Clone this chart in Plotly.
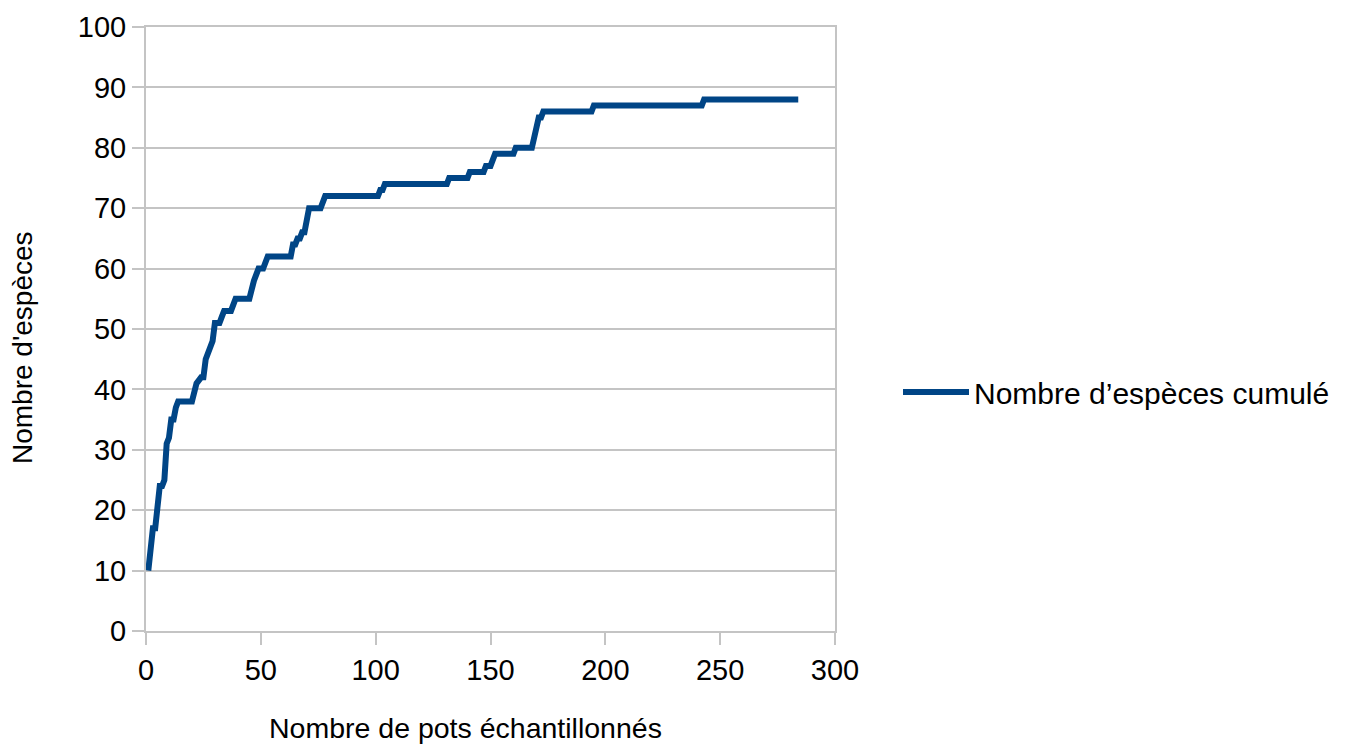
import plotly.graph_objects as go

pots = [1, 2, 3, 4, 5, 6, 7, 8, 9, 10, 11, 12, 13, 14, 20, 21, 22, 24, 25, 26,
        27, 28, 29, 30, 32, 33, 34, 37, 38, 39, 45, 46, 47, 48, 49, 51, 52, 53,
        63, 64, 65, 66, 67, 68, 69, 70, 71, 76, 77, 78, 101, 102, 103, 104, 131,
        132, 140, 141, 147, 148, 150, 151, 152, 160, 161, 168, 169, 170, 171,
        172, 173, 194, 195, 242, 243, 284]
species = [10, 14, 17, 17, 21, 24, 24, 25, 31, 32, 35, 35, 37, 38, 38, 40, 41,
           42, 42, 45, 46, 47, 48, 51, 51, 52, 53, 53, 54, 55, 55, 57, 58, 59,
           60, 60, 61, 62, 62, 64, 64, 65, 65, 66, 66, 68, 70, 70, 71, 72, 72,
           73, 73, 74, 74, 75, 75, 76, 76, 77, 77, 78, 79, 79, 80, 80, 82, 83,
           85, 85, 86, 86, 87, 87, 88, 88]

series_name = "Nombre d\u2019espèces cumulé"
x_title = "Nombre de pots échantillonnés"
y_title = "Nombre d'espèces"
x_ticks = [0, 50, 100, 150, 200, 250, 300]
y_ticks = [0, 10, 20, 30, 40, 50, 60, 70, 80, 90, 100]

FONT = "Liberation Sans, Arial, sans-serif"
GRID = "#c4c4c4"

# page body has an 8px offset; plot area target (page px): x 146-835, y 27-631
OFF = 8
L, R, T, B = 146 - OFF, 1354 - (835 - OFF), 27 - OFF, 744 - (631 - OFF)
pw = 1354 - L - R
ph = 744 - T - B


def px_to_paper(px, py):
    return (px - 146) / pw, (631 - py) / ph


fig = go.Figure()
fig.add_trace(go.Scatter(
    x=pots, y=species, mode="lines", name=series_name,
    line=dict(color="#004586", width=6),
))

ax, ay = px_to_paper(465, 728)
bx, by = px_to_paper(22, 348)
lx, ly = px_to_paper(898, 392)

fig.update_layout(
    width=1354, height=744,
    margin=dict(l=L, r=R, t=T, b=B, autoexpand=False),
    paper_bgcolor="white", plot_bgcolor="white",
    font=dict(family=FONT, size=29, color="#000000"),
    showlegend=True,
    legend=dict(x=lx, y=ly, xanchor="left", yanchor="middle",
                font=dict(size=30), itemwidth=66, bgcolor="rgba(0,0,0,0)"),
    xaxis=dict(range=[0, 300], tickvals=x_ticks, showgrid=False,
               showline=True, linecolor=GRID, linewidth=2, mirror=True,
               ticks="outside", ticklen=12, tickwidth=2, tickcolor=GRID,
               zeroline=False, tickfont=dict(size=29)),
    yaxis=dict(range=[0, 100], tickvals=y_ticks, showgrid=True,
               gridcolor=GRID, gridwidth=2,
               showline=True, linecolor=GRID, linewidth=2, mirror=True,
               ticks="outside", ticklen=12, tickwidth=2, tickcolor=GRID,
               zeroline=False, tickfont=dict(size=29)),
    annotations=[
        dict(text=x_title, x=ax, y=ay, xref="paper", yref="paper",
             xanchor="center", yanchor="middle", showarrow=False,
             font=dict(size=28.5)),
        dict(text=y_title, x=bx, y=by, xref="paper", yref="paper",
             xanchor="center", yanchor="middle", showarrow=False,
             textangle=-90, font=dict(size=28)),
    ],
)

fig.write_html("out.html")
